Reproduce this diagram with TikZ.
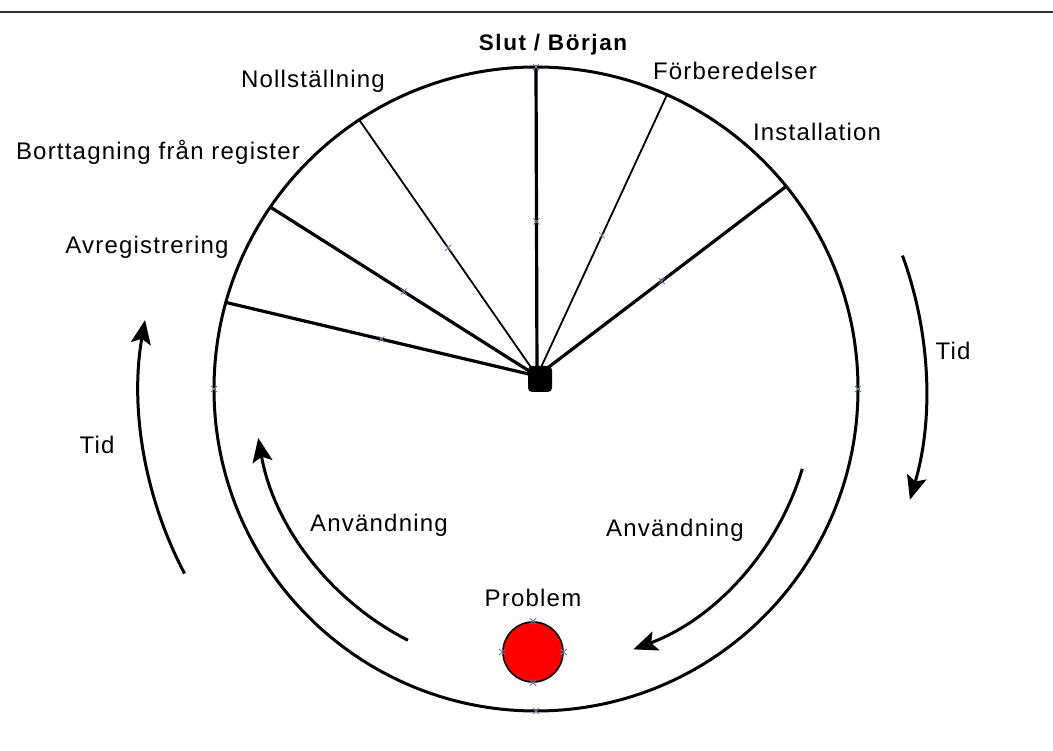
\documentclass[tikz,border=0pt]{standalone}
\usepackage{fontspec}
\setmainfont{Liberation Sans}
\newfontfamily\lab[LetterSpace=5]{Liberation Sans}
\newfontfamily\labb[LetterSpace=7]{Liberation Sans}
\usetikzlibrary{calc,arrows.meta}
\definecolor{rulecol}{RGB}{50,50,70}
\definecolor{mkcol}{RGB}{110,120,170}
\begin{document}
\begin{tikzpicture}[x=1pt,y=1pt,
  lbl/.style={anchor=base,inner sep=0pt,font=\lab\fontsize{24}{28}\selectfont},
  lblb/.style={anchor=base,inner sep=0pt,font=\labb\bfseries\fontsize{22.5}{27}\selectfont},
  thickspoke/.style={line width=3.2pt,black},
  thinspoke/.style={line width=1.8pt,black},
  rim/.style={line width=3pt,black},
  arr/.style={line width=3pt,black,-{Stealth[length=24pt,width=20pt,inset=5pt]}},
  mk/.style={line width=0.8pt,mkcol}]
\useasboundingbox (0,0) rectangle (1053,751);
\fill[white] (0,0) rectangle (1053,751);
% top rule
\coordinate (RL) at (0,739);
\coordinate (RR) at (1053,739);
\draw[rulecol,line width=2.5pt] (RL) -- (RR);
% main circle
\coordinate (C) at (536,362);
\coordinate (H) at (537,375);
\draw[rim] (C) circle[radius=322pt];
% spoke ends
\coordinate (Etop) at ($(C)+(90:322pt)$);
\coordinate (Efor) at ($(C)+(66:322pt)$);
\coordinate (Eins) at ($(C)+(39:322pt)$);
\coordinate (Enol) at ($(C)+(123.3:322pt)$);
\coordinate (Ebor) at ($(C)+(145.6:322pt)$);
\coordinate (Eavr) at ($(C)+(164.4:322pt)$);
\draw[thickspoke] (H) -- (Etop);
\draw[thinspoke] (H) -- (Efor);
\draw[thickspoke] (H) -- (Eins);
\draw[thinspoke] (H) -- (Enol);
\draw[thickspoke] (H) -- (Ebor);
\draw[thickspoke] (H) -- (Eavr);
% hub
\node[rounded corners=4pt,fill=black,minimum width=24pt,minimum height=26pt,inner sep=0pt] (hub) at (540,372) {};
% problem dot
\node[circle,fill=red,draw=black,line width=1.6pt,minimum size=60pt,inner sep=0pt] (prob) at (533,99) {};
% arrows
\draw[arr] ($(C)+(20:390pt)$) arc[start angle=20, end angle=-16.5, radius=390pt];
\draw[arr] ($(C)+(-16.7:278pt)$) arc[start angle=-16.7, end angle=-69.5, radius=278pt];
\draw[arr] ($(C)+(243:282pt)$) arc[start angle=243, end angle=190, radius=282pt];
\draw[arr] ($(C)+(207.7:397pt)$) arc[start angle=207.7, end angle=170, radius=397pt];
% markers
\foreach \p in {Etop, Efor, Eins, Enol, Ebor, Eavr}
  \draw[mk] ($(H)!0.5!(\p)$) +(-3,-3) -- +(3,3) +(-3,3) -- +(3,-3);
\foreach \p in {Etop, prob.north, prob.south, prob.east, prob.west}
  \draw[mk] (\p) +(-3,-3) -- +(3,3) +(-3,3) -- +(3,-3);
\draw[mk] ($(C)+(-90:322pt)$) +(-3,-3) -- +(3,3) +(-3,3) -- +(3,-3);
\draw[mk] ($(C)+(180:322pt)$) +(-3,-3) -- +(3,3) +(-3,3) -- +(3,-3);
\draw[mk] ($(C)+(0:322pt)$) +(-3,-3) -- +(3,3) +(-3,3) -- +(3,-3);
% labels
\node[lblb] (tslut) at (553,700) {Slut / Början};
\node[lbl] (tfor) at (735,671) {Förberedelser};
\node[lbl] (tins) at (817,610) {Installation};
\node[lbl] (tnol) at (313,663) {Nollställning};
\node[lbl] (tbor) at (158,591) {Borttagning från register};
\node[lbl] (tavr) at (147,497) {Avregistrering};
\node[lbl] (ttidr) at (953,391) {Tid};
\node[lbl] (ttidl) at (97,297) {Tid};
\node[lbl] (tanvl) at (379,219) {Användning};
\node[lbl] (tanvr) at (675,214) {Användning};
\node[lbl] (tprob) at (533,144) {Problem};
\end{tikzpicture}
\end{document}
